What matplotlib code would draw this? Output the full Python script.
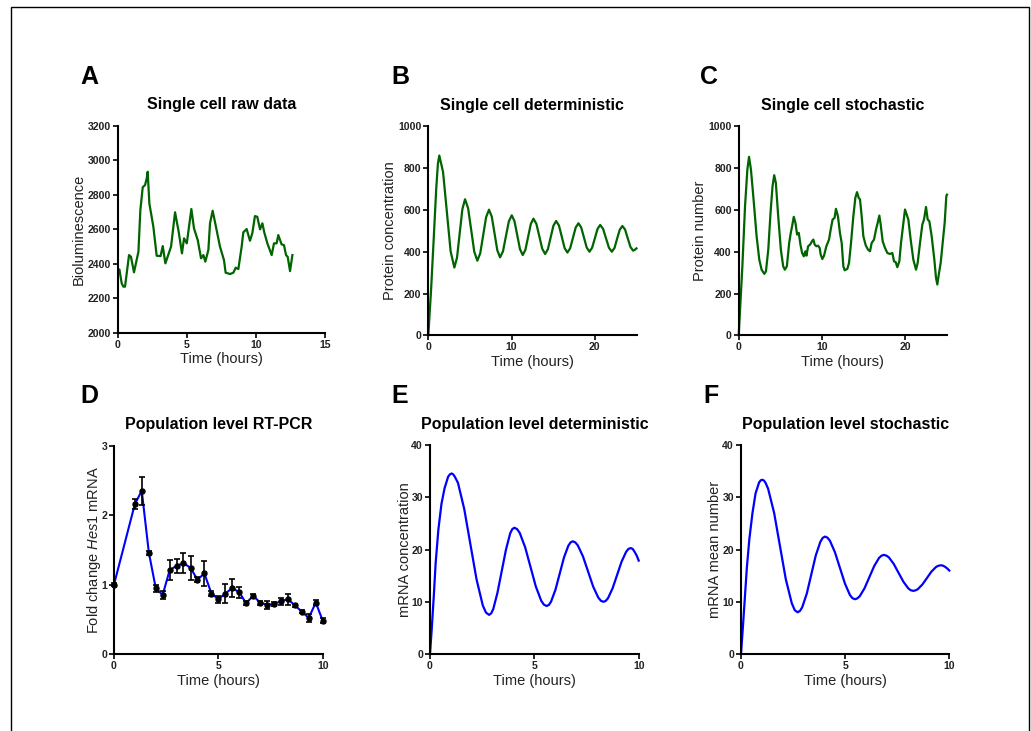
import matplotlib
matplotlib.use("Agg")
import matplotlib.pyplot as plt
from matplotlib.patches import Rectangle

plt.rcParams['font.family'] = ['Liberation Sans', 'DejaVu Sans']
plt.rcParams['mathtext.fontset'] = 'custom'
plt.rcParams['mathtext.rm'] = 'Liberation Sans'
plt.rcParams['mathtext.it'] = 'Liberation Sans:italic'
plt.rcParams['mathtext.bf'] = 'Liberation Sans:bold'

# ---------------- data ----------------
# A: single cell raw data (bioluminescence)
a_t = [0.05, 0.12, 0.29, 0.41, 0.53, 0.82, 0.96, 1.18, 1.5, 1.64, 1.81, 1.98, 2.1, 2.17,
       2.29, 2.58, 2.82, 3.1, 3.26, 3.45, 3.86, 4.15, 4.41, 4.65, 4.8, 5.0, 5.33, 5.52,
       5.79, 6.03, 6.2, 6.34, 6.56, 6.68, 6.87, 7.11, 7.4, 7.69, 7.81, 8.13, 8.37, 8.54,
       8.73, 8.97, 9.09, 9.33, 9.57, 9.74, 9.93, 10.1, 10.3, 10.47, 10.61, 10.83, 11.14,
       11.31, 11.5, 11.62, 11.86, 12.03, 12.18, 12.3, 12.47, 12.64]
a_v = [2354, 2367, 2286, 2267, 2267, 2450, 2440, 2350, 2470, 2711, 2843, 2856, 2895, 2933,
       2750, 2614, 2446, 2444, 2502, 2402, 2499, 2698, 2586, 2460, 2547, 2518, 2717, 2605,
       2537, 2431, 2450, 2412, 2479, 2634, 2707, 2614, 2499, 2421, 2348, 2340, 2348, 2377,
       2369, 2499, 2582, 2601, 2533, 2576, 2676, 2672, 2599, 2634, 2580, 2518, 2450,
       2518, 2518, 2566, 2512, 2508, 2450, 2440, 2357, 2450]

# B: single cell deterministic (protein concentration)
b_t = [0, 0.33, 0.66, 0.95, 1.15, 1.32, 1.77, 2.225, 2.68, 3.13, 3.45, 3.77, 4.09, 4.41,
       4.78, 5.15, 5.52, 5.89, 6.24, 6.59, 6.94, 7.29, 7.62, 7.955, 8.29, 8.62, 8.97, 9.32,
       9.67, 10.02, 10.35, 10.68, 11.01, 11.34, 11.66, 11.985, 12.31, 12.63, 12.98, 13.33,
       13.68, 14.03, 14.36, 14.69, 15.02, 15.35, 15.69, 16.025, 16.36, 16.7, 17.03, 17.365,
       17.7, 18.03, 18.36, 18.69, 19.02, 19.35, 19.67, 20.0, 20.32, 20.64, 20.99, 21.34,
       21.69, 22.04, 22.36, 22.67, 22.99, 23.3, 23.63, 23.95, 24.28, 24.6, 24.8, 25.0]
b_v = [0, 215, 470, 700, 820, 860, 782, 592, 402, 324, 372, 488, 603, 651,
       608, 504, 400, 357, 393, 479, 565, 601, 568, 487, 406, 373, 402, 474,
       545, 574, 546, 479, 412, 384, 409, 471, 533, 558, 533, 474,
       414, 389, 412, 468, 524, 547, 525, 472, 418, 396, 416, 466,
       516, 536, 516, 468, 420, 400, 419, 464, 509, 528, 509, 464,
       419, 400, 418, 462, 505, 523, 506, 464, 422, 405, 409, 416]

# C: single cell stochastic (protein number)
c_t = [0, 0.44, 0.76, 1.04, 1.24, 1.47, 1.75, 2.15, 2.47, 2.75, 3.07, 3.27, 3.55, 3.82,
       4.06, 4.26, 4.46, 4.74, 5.06, 5.34, 5.54, 5.78, 6.06, 6.25, 6.41, 6.61, 6.81, 7.01,
       7.21, 7.41, 7.61, 7.81, 8.0, 8.13, 8.33, 8.57, 8.8, 8.96, 9.12, 9.32, 9.52, 9.72,
       9.84, 10.04, 10.24, 10.52, 10.84, 11.04, 11.27, 11.51, 11.67, 11.91, 12.15, 12.36,
       12.56, 12.72, 13.04, 13.24, 13.48, 13.76, 14.0, 14.2, 14.4, 14.56, 14.76, 14.96,
       15.24, 15.52, 15.76, 15.96, 16.24, 16.48, 16.68, 16.88, 17.04, 17.28, 17.56, 17.84,
       18.16, 18.44, 18.64, 18.84, 19.04, 19.28, 19.48, 19.72, 19.96, 20.16, 20.36, 20.64,
       20.96, 21.28, 21.48, 21.76, 22.04, 22.24, 22.48, 22.68, 22.88, 23.16, 23.48, 23.68,
       23.84, 24.04, 24.24, 24.48, 24.72, 24.92, 25.0]
c_v = [0, 330, 618, 793, 854, 793, 666, 474, 362, 314, 294, 306, 410, 586,
       713, 766, 729, 570, 410, 330, 314, 330, 442, 490, 522, 567, 538, 482,
       490, 434, 394, 378, 402, 381, 426, 434, 450, 458, 434, 426, 429, 418,
       386, 365, 381, 426, 458, 506, 554, 562, 605, 570, 490, 442,
       330, 311, 318, 346, 442, 570, 658, 685, 658, 650, 570, 474,
       431, 410, 402, 442, 458, 506, 538, 573, 530, 450, 418, 394,
       389, 394, 354, 350, 326, 354, 442, 522, 602, 578, 554, 458,
       362, 314, 346, 442, 530, 554, 614, 554, 546, 474, 362, 275,
       243, 298, 346, 442, 538, 666, 673]

# D: population level RT-PCR
d_t = [0, 1.0, 1.33, 1.67, 2.0, 2.33, 2.67, 3.0, 3.33, 3.67, 4.0, 4.33, 4.67, 5.0, 5.33,
       5.67, 6.0, 6.33, 6.67, 7.0, 7.33, 7.67, 8.0, 8.33, 8.67, 9.0, 9.33, 9.67, 10.0]
d_v = [1.0, 2.16, 2.35, 1.46, 0.95, 0.85, 1.21, 1.27, 1.31, 1.24, 1.07, 1.16, 0.87, 0.79, 0.87,
       0.95, 0.89, 0.73, 0.84, 0.74, 0.71, 0.72, 0.76, 0.79, 0.70, 0.61, 0.52, 0.74, 0.48]
d_err = [0.02, 0.07, 0.20, 0.03, 0.05, 0.06, 0.14, 0.10, 0.15, 0.17, 0.04, 0.18, 0.04, 0.05, 0.14,
         0.13, 0.08, 0.03, 0.03, 0.03, 0.06, 0.03, 0.05, 0.08, 0.02, 0.02, 0.06, 0.04, 0.04]

# E: population level deterministic (mRNA concentration)
e_t = [0, 0.08, 0.18, 0.27, 0.4, 0.55, 0.7, 0.87, 0.96, 1.04, 1.12, 1.2, 1.34, 1.64, 1.935,
       2.23, 2.53, 2.68, 2.83, 2.93, 3.03, 3.23, 3.435, 3.64, 3.84, 3.94, 4.04, 4.17, 4.3,
       4.56, 4.815, 5.07, 5.33, 5.46, 5.59, 5.7, 5.8, 6.01, 6.215, 6.42, 6.63, 6.74, 6.84,
       6.96, 7.085, 7.33, 7.575, 7.82, 8.065, 8.19, 8.31, 8.42, 8.53, 8.75, 8.965, 9.18,
       9.4, 9.51, 9.62, 9.71, 9.8, 9.9, 10.0]
e_v = [0, 4.6, 11.0, 17.4, 23.8, 28.8, 31.8, 34.0, 34.45, 34.6, 34.4, 33.9, 32.8, 27.8, 21.05,
       14.3, 9.3, 7.95, 7.5, 7.78, 8.6, 11.7, 15.85, 20.0, 23.1, 23.92, 24.2, 23.95, 23.2,
       20.45, 16.7, 12.95, 10.2, 9.45, 9.2, 9.42, 10.03, 12.3, 15.4, 18.5, 20.77, 21.4, 21.6,
       21.4, 20.8, 18.7, 15.8, 12.9, 10.8, 10.2, 10.0, 10.18, 10.7, 12.6, 15.15, 17.7,
       19.6, 20.15, 20.3, 20.15, 19.6, 18.9, 17.9]

# F: population level stochastic (mRNA mean number)
f_t = [0, 0.08, 0.18, 0.28, 0.4, 0.55, 0.7, 0.87, 0.95, 1.02, 1.1, 1.18, 1.30, 1.59, 1.87,
       2.15, 2.44, 2.58, 2.72, 2.83, 2.94, 3.16, 3.375, 3.59, 3.81, 3.92, 4.03, 4.15, 4.27,
       4.51, 4.75, 4.99, 5.23, 5.35, 5.47, 5.58, 5.70, 5.93, 6.165, 6.40, 6.63, 6.75, 6.86,
       6.98, 7.095, 7.33, 7.565, 7.80, 8.035, 8.15, 8.27, 8.38, 8.49, 8.71, 8.925, 9.14,
       9.36, 9.47, 9.58, 9.69, 9.8, 9.9, 10.0]
f_v = [0, 4.5, 10.5, 16.5, 22.0, 27.0, 30.8, 32.9, 33.3, 33.4, 33.25, 32.8, 31.7, 27.05, 20.7,
       14.35, 9.7, 8.4, 8.0, 8.25, 8.97, 11.6, 15.25, 18.9, 21.5, 22.25, 22.5, 22.3, 21.7,
       19.5, 16.5, 13.5, 11.3, 10.7, 10.5, 10.65, 11.07, 12.6, 14.75, 16.9, 18.43, 18.85, 19.0,
       18.85, 18.54, 17.28, 15.55, 13.83, 12.56, 12.22, 12.1, 12.2, 12.43, 13.33, 14.55, 15.78,
       16.67, 16.9, 17.0, 16.95, 16.7, 16.4, 16.0]

titles = ["Single cell raw data", "Single cell deterministic", "Single cell stochastic",
          "Population level RT-PCR", "Population level deterministic", "Population level stochastic"]
ylabels = ["Bioluminescence", "Protein concentration", "Protein number",
           r"Fold change $\mathit{Hes1}$ mRNA", "mRNA concentration", "mRNA mean number"]
letters = ["A", "B", "C", "D", "E", "F"]
xlabel = "Time (hours)"

GREEN = "#006400"
BLUE = "#0000ff"

W, H = 1031, 731
fig = plt.figure(figsize=(W / 100, H / 100), dpi=100)

def px_axes(x0, x1, ytop, ybot):
    return fig.add_axes([x0 / W, 1 - ybot / H, (x1 - x0) / W, (ybot - ytop) / H])

boxes = [(117.7, 325.0, 125.7, 332.7),
         (428.3, 636.5, 126.3, 335.3),
         (738.7, 947.0, 126.3, 335.3),
         (114.0, 322.7, 445.7, 654.0),
         (430.0, 638.7, 445.3, 654.0),
         (741.0, 949.3, 445.3, 654.0)]
ylab_x = [-0.153, -0.150, -0.152, -0.053, -0.088, -0.093]
letter_pos = [(89, 77), (400, 77), (709, 77), (89, 396), (400, 396), (711, 396)]

axes = [px_axes(*b) for b in boxes]

axes[0].plot(a_t, a_v, color=GREEN, lw=1.6, clip_on=False)
axes[1].plot(b_t, b_v, color=GREEN, lw=1.6, clip_on=False)
axes[2].plot(c_t, c_v, color=GREEN, lw=1.6, clip_on=False)
axes[3].plot(d_t, d_v, color=BLUE, lw=1.5, clip_on=False, zorder=2)
axes[3].errorbar(d_t, d_v, yerr=d_err, fmt='o', color='black', ms=3.6, elinewidth=1.2,
                 capsize=2.2, capthick=1.2, clip_on=False, zorder=3)
axes[4].plot(e_t, e_v, color=BLUE, lw=1.6, clip_on=False)
axes[5].plot(f_t, f_v, color=BLUE, lw=1.6, clip_on=False)

limits = [((0, 15), (2000, 3200), [0, 5, 10, 15], list(range(2000, 3201, 200))),
          ((0, 25), (0, 1000), [0, 10, 20], list(range(0, 1001, 200))),
          ((0, 25), (0, 1000), [0, 10, 20], list(range(0, 1001, 200))),
          ((0, 10), (0, 3), [0, 5, 10], [0, 1, 2, 3]),
          ((0, 10), (0, 40), [0, 5, 10], [0, 10, 20, 30, 40]),
          ((0, 10), (0, 40), [0, 5, 10], [0, 10, 20, 30, 40])]

for i, ax in enumerate(axes):
    xl, yl, xt, yt = limits[i]
    ax.set_xlim(*xl)
    ax.set_ylim(*yl)
    ax.set_xticks(xt)
    ax.set_yticks(yt)
    for s in ['top', 'right']:
        ax.spines[s].set_visible(False)
    for s in ['left', 'bottom']:
        ax.spines[s].set_linewidth(1.5)
        ax.spines[s].set_color('black')
    ax.tick_params(direction='out', length=3.5, width=1.2, pad=1.5, labelsize=7.6)
    for lab in ax.get_xticklabels() + ax.get_yticklabels():
        lab.set_fontweight('bold')
        lab.set_color('#222222')
    ax.set_title(titles[i], fontsize=11.5, fontweight='bold', pad=12)
    ax.set_xlabel(xlabel, fontsize=10.5, color='#222222')
    ax.xaxis.set_label_coords(0.5, -0.095)
    ax.set_ylabel(ylabels[i], fontsize=10.5, color='#222222')
    ax.yaxis.set_label_coords(ylab_x[i], 0.5)
    lx, ly = letter_pos[i]
    fig.text(lx / W, 1 - ly / H, letters[i], fontsize=18, fontweight='bold',
             ha='center', va='center')

# figure frame
fig.patches.append(Rectangle((11 / W, -0.02), (1029 - 11) / W, 1 - 7 / H + 0.02,
                             transform=fig.transFigure, fill=False, edgecolor='black',
                             linewidth=1.0))

fig.savefig("out.png", dpi=100)
